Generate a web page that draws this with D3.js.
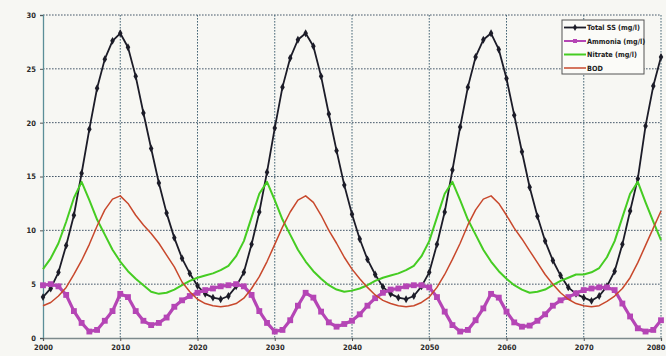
<!DOCTYPE html>
<html lang="en">

<head>
    <meta charset="UTF-8">
    <title>Water quality projection</title>
    <script src="https://d3js.org/d3.v7.min.js"></script>
    <style>
        body {
            margin: 0;
            background: #f7f7f3;
        }

        .tick text {
            font: bold 7.5px "DejaVu Sans Condensed", "DejaVu Sans", sans-serif;
            fill: #2a2a2a;
        }

        .legend text {
            font: bold 7.2px "DejaVu Sans Condensed", "DejaVu Sans", sans-serif;
            fill: #222;
        }
    </style>
</head>

<body>
    <svg width="666" height="356"></svg>

    <script>
        // yearly values, 2000 - 2080
        const startYear = 2000;
        const endYear = 2080;
        const years = d3.range(startYear, endYear + 1);

        const totalSS = [
            3.8, 4.6, 6.1, 8.6, 11.4, 15.3, 19.4, 23.2, 25.9, 27.6,
            28.3, 27.0, 24.3, 20.9, 17.6, 14.4, 11.6, 9.3, 7.4, 6.0,
            4.85, 4.1, 3.75, 3.6, 3.9, 4.8, 6.1, 8.7, 11.7, 15.4,
            19.5, 23.3, 26.0, 27.7, 28.3, 27.1, 24.3, 20.8, 17.4, 14.2,
            11.5, 9.2, 7.3, 5.9, 4.75, 4.1, 3.75, 3.6, 3.9, 4.8,
            6.1, 8.7, 11.7, 15.6, 19.6, 23.3, 26.1, 27.7, 28.3, 26.8,
            24.1, 20.7, 17.3, 14.0, 11.3, 9.0, 7.2, 5.8, 4.7, 4.1,
            3.75, 3.45, 3.9, 4.8, 6.2, 8.7, 11.8, 14.8, 19.7, 23.4, 26.1
        ];

        const ammonia = [
            4.9, 5.0, 4.8, 4.0, 2.5, 1.4, 0.6, 0.75, 1.6, 2.5,
            4.1, 3.8, 2.5, 1.6, 1.2, 1.4, 1.9, 2.9, 3.5, 3.9,
            4.2, 4.45, 4.6, 4.8, 4.9, 5.0, 4.8, 4.0, 2.5, 1.4,
            0.6, 0.75, 1.65, 3.0, 4.2, 3.75, 2.45, 1.45, 1.05, 1.3,
            1.6, 2.2, 3.0, 3.7, 4.2, 4.5, 4.6, 4.8, 4.9, 4.9,
            4.7, 3.8, 2.45, 1.2, 0.6, 0.75, 1.65, 2.75, 4.1, 3.75,
            2.45, 1.45, 1.05, 1.15, 1.6, 2.2, 3.0, 3.5, 3.8, 4.15,
            4.45, 4.6, 4.7, 4.7, 4.45, 3.2, 2.0, 0.9, 0.6, 0.75, 1.65
        ];

        const nitrate = [
            6.4, 7.4, 8.8, 10.8, 13.0, 14.5, 12.8, 11.0, 9.6, 8.2,
            7.1, 6.2, 5.5, 4.9, 4.3, 4.1, 4.2, 4.5, 4.9, 5.3,
            5.6, 5.8, 6.0, 6.3, 6.7, 7.6, 9.0, 11.2, 13.4, 14.5,
            12.8, 11.0, 9.6, 8.2, 7.1, 6.2, 5.5, 4.9, 4.5, 4.3,
            4.4, 4.6, 4.9, 5.3, 5.6, 5.8, 6.0, 6.3, 6.7, 7.6,
            9.0, 11.2, 13.4, 14.5, 12.8, 11.0, 9.6, 8.2, 7.1, 6.2,
            5.5, 4.9, 4.5, 4.2, 4.3, 4.5, 4.9, 5.3, 5.6, 5.9,
            5.9, 6.1, 6.5, 7.5, 9.0, 11.2, 13.4, 14.5, 12.6, 10.8, 9.1
        ];

        const bod = [
            3.0, 3.3, 3.9, 4.7, 5.9, 7.2, 8.7, 10.4, 11.9, 12.9,
            13.2, 12.5, 11.4, 10.5, 9.7, 8.8, 7.7, 6.6, 5.2, 4.3,
            3.6, 3.2, 3.0, 2.9, 3.0, 3.2, 3.7, 4.6, 5.7, 7.1,
            8.7, 10.3, 11.7, 12.8, 13.2, 12.6, 11.4, 10.0, 8.8, 7.5,
            6.4, 5.5, 4.7, 4.0, 3.5, 3.2, 3.0, 2.9, 3.0, 3.3,
            3.8, 4.7, 5.9, 7.3, 8.8, 10.5, 11.9, 12.9, 13.2, 12.5,
            11.4, 10.2, 9.2, 8.1, 7.0, 5.9, 5.0, 4.2, 3.6, 3.2,
            3.0, 2.9, 3.0, 3.4, 3.9, 4.6, 5.6, 7.0, 8.6, 10.2, 11.8
        ];

        const seriesNames = ["Total SS (mg/l)", "Ammonia (mg/l)", "Nitrate (mg/l)", "BOD"];
        const yTicks = [0, 5, 10, 15, 20, 25, 30];
        const xTicks = [2000, 2010, 2020, 2030, 2040, 2050, 2060, 2070, 2080];

        const series = [
            { name: seriesNames[0], values: totalSS, color: "#1c1c28", width: 1.8, marker: "diamond" },
            { name: seriesNames[1], values: ammonia, color: "#b545b5", width: 3.2, marker: "square" },
            { name: seriesNames[2], values: nitrate, color: "#45cc22", width: 2, marker: null },
            { name: seriesNames[3], values: bod, color: "#c8482c", width: 1.5, marker: null }
        ];

        const width = 666;
        const height = 356;
        const margin = { top: 15, right: 5, bottom: 18, left: 43 };

        const svg = d3.select("svg");

        const x = d3.scaleLinear()
            .domain([startYear, endYear])
            .range([margin.left, width - margin.right]);

        const y = d3.scaleLinear()
            .domain([0, 30])
            .range([height - margin.bottom, margin.top]);

        // dotted grid
        svg.append("g")
            .selectAll("line")
            .data(yTicks.filter(d => d > 0))
            .join("line")
            .attr("x1", margin.left)
            .attr("x2", width - margin.right)
            .attr("y1", d => y(d))
            .attr("y2", d => y(d))
            .attr("stroke", "#46586a")
            .attr("stroke-width", 1)
            .attr("stroke-dasharray", "1.6,1.4");

        svg.append("g")
            .selectAll("line")
            .data(xTicks.filter(d => d > startYear))
            .join("line")
            .attr("x1", d => x(d))
            .attr("x2", d => x(d))
            .attr("y1", margin.top)
            .attr("y2", height - margin.bottom)
            .attr("stroke", "#466676")
            .attr("stroke-width", 1)
            .attr("stroke-dasharray", "1.6,1.4");

        // axes
        const yAxis = svg.append("g")
            .attr("transform", `translate(${margin.left},0)`)
            .call(d3.axisLeft(y).tickValues(yTicks).tickSize(3).tickPadding(4));
        yAxis.select(".domain").attr("stroke", "#5b8e98").attr("stroke-width", 1.3);
        yAxis.selectAll(".tick line").attr("stroke", "#555");

        const xAxis = svg.append("g")
            .attr("transform", `translate(0,${height - margin.bottom})`)
            .call(d3.axisBottom(x).tickValues(xTicks).tickFormat(d3.format("d")).tickSize(3).tickPadding(4));
        xAxis.select(".domain").attr("stroke", "#7d8a8c").attr("stroke-width", 1.3);
        xAxis.selectAll(".tick line").attr("stroke", "#555");
        // last label sits on the right edge
        xAxis.selectAll(".tick text").filter(d => d === endYear)
            .attr("text-anchor", "end")
            .attr("dx", 4);

        // lines
        const line = d3.line()
            .x((d, i) => x(years[i]))
            .y(d => y(d));

        const marks = svg.append("g");

        series.forEach(s => {
            const g = marks.append("g");
            g.append("path")
                .datum(s.values)
                .attr("fill", "none")
                .attr("stroke", s.color)
                .attr("stroke-width", s.width)
                .attr("stroke-linejoin", "round")
                .attr("d", line);

            if (s.marker === "square") {
                g.selectAll("path.pt")
                    .data(s.values)
                    .join("path")
                    .attr("class", "pt")
                    .attr("transform", (d, i) => `translate(${x(years[i])},${y(d)})`)
                    .attr("d", d3.symbol(d3.symbolSquare, 34))
                    .attr("fill", s.color);
            } else if (s.marker === "diamond") {
                g.selectAll("path.pt")
                    .data(s.values)
                    .join("path")
                    .attr("class", "pt")
                    .attr("transform", (d, i) => `translate(${x(years[i])},${y(d)})`)
                    .attr("d", d3.symbol(d3.symbolDiamond, 18))
                    .attr("fill", s.color);
            }
        });

        // legend
        const legend = svg.append("g").attr("class", "legend");
        legend.append("rect")
            .attr("x", 562)
            .attr("y", 20)
            .attr("width", 82)
            .attr("height", 54)
            .attr("fill", "#fbfbf8")
            .attr("stroke", "#555")
            .attr("stroke-width", 1);

        const item = legend.selectAll("g.item")
            .data(series)
            .join("g")
            .attr("class", "item")
            .attr("transform", (d, i) => `translate(564,${27.5 + i * 13.5})`);

        item.append("line")
            .attr("x1", 0)
            .attr("x2", 22)
            .attr("stroke", d => d.color)
            .attr("stroke-width", d => Math.min(d.width, 2));

        item.filter(d => d.marker === "square").append("path")
            .attr("transform", "translate(11,0)")
            .attr("d", d3.symbol(d3.symbolSquare, 16))
            .attr("fill", d => d.color);

        item.filter(d => d.marker === "diamond").append("path")
            .attr("transform", "translate(11,0)")
            .attr("d", d3.symbol(d3.symbolDiamond, 14))
            .attr("fill", d => d.color);

        item.append("text")
            .attr("x", 23)
            .attr("dy", "0.35em")
            .text(d => d.name);
    </script>
</body>

</html>
